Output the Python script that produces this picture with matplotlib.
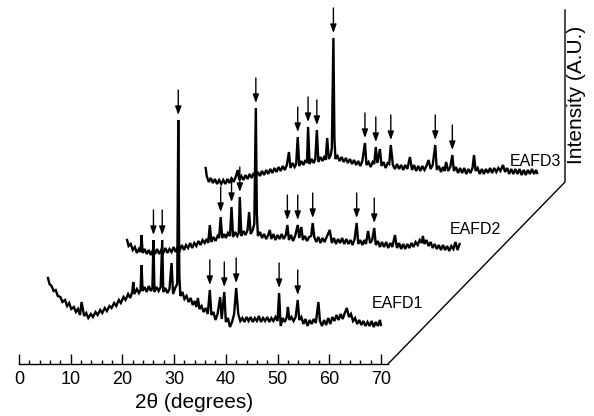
import numpy as np
import matplotlib
matplotlib.use("Agg")
from matplotlib import pyplot as plt

plt.rcParams["font.family"] = ["Liberation Sans", "DejaVu Sans"]

# 2theta (deg) / intensity (a.u.)
eafd1_2t = [5.6, 5.9, 6.3, 6.7, 7.1, 7.5, 8.0, 8.4, 8.9, 9.3, 9.7, 10.1, 10.6, 11.0, 11.4, 11.8, 12.1, 12.6,
            13.0, 13.4, 13.9, 14.3, 14.8, 15.2, 15.7, 16.1, 16.6, 17.0, 17.5, 17.9, 18.4, 18.8, 19.3, 19.7,
            20.2, 20.6, 21.1, 21.5, 21.9, 22.1, 22.3, 22.8, 23.2, 23.5, 23.7, 23.9, 24.3, 24.7, 25.1, 25.5,
            25.8, 26.0, 26.2, 26.6, 27.0, 27.4, 27.7, 27.9, 28.3, 28.7, 29.1, 29.5, 29.8, 30.2, 30.6, 30.8,
            31.0, 31.2, 31.6, 32.0, 32.4, 32.8, 33.2, 33.6, 34.0, 34.3, 34.6, 34.9, 35.3, 35.7, 36.1, 36.5,
            36.9, 37.2, 37.6, 38.0, 38.4, 38.9, 39.2, 39.7, 40.0, 40.4, 40.8, 41.2, 41.6, 42.0, 42.4, 42.8,
            43.2, 43.6, 44.0, 44.4, 44.8, 45.2, 45.6, 46.0, 46.4, 46.8, 47.2, 47.6, 48.0, 48.4, 48.8, 49.2,
            49.6, 50.0, 50.3, 50.6, 51.0, 51.4, 51.8, 52.0, 52.3, 52.7, 53.1, 53.5, 53.9, 54.2, 54.6, 55.0,
            55.4, 55.8, 56.2, 56.6, 57.0, 57.4, 57.9, 58.2, 58.6, 59.0, 59.4, 59.8, 60.2, 60.6, 61.0, 61.4,
            61.8, 62.2, 62.6, 63.0, 63.4, 63.8, 64.2, 64.6, 65.0, 65.4, 65.8, 66.2, 66.6, 67.0, 67.4, 67.8,
            68.2, 68.6, 69.0, 69.4, 69.8, 70.0]
eafd1_int = [86, 80, 78, 73, 74, 68, 67, 62, 64, 58, 61, 55, 57, 52, 55, 49, 62, 48,
             51, 46, 50, 47, 52, 49, 54, 51, 56, 53, 58, 56, 61, 58, 64, 61,
             67, 64, 70, 66, 72, 82, 70, 75, 71, 74, 99, 73, 77, 72, 78, 73,
             76, 124, 72, 77, 73, 77, 124, 72, 76, 71, 75, 101, 70, 76, 80, 244,
             90, 68, 72, 65, 68, 62, 66, 59, 63, 57, 66, 55, 58, 52, 56, 50,
             74, 49, 52, 44, 50, 67, 45, 72, 42, 46, 37, 42, 50, 76, 50, 43,
             46, 42, 47, 43, 47, 42, 46, 43, 48, 42, 46, 43, 47, 42, 46, 43,
             47, 43, 71, 38, 46, 42, 47, 57, 44, 47, 43, 47, 64, 44, 47, 40,
             45, 38, 44, 40, 45, 41, 62, 43, 38, 44, 39, 46, 40, 47, 43, 49,
             44, 50, 45, 51, 56, 47, 50, 43, 46, 40, 44, 39, 43, 38, 42, 38,
             43, 37, 42, 38, 44, 39]

eafd2_2t = [5.9, 6.2, 6.6, 7.0, 7.4, 7.8, 8.2, 8.5, 8.7, 8.9, 9.3, 9.7, 10.1, 10.5, 10.9, 11.3, 11.7, 12.1,
            12.5, 12.9, 13.3, 13.7, 14.1, 14.5, 14.9, 15.3, 15.7, 16.1, 16.5, 16.9, 17.3, 17.7, 18.1, 18.5,
            18.9, 19.3, 19.7, 20.1, 20.5, 20.9, 21.3, 21.6, 21.9, 22.2, 22.6, 23.0, 23.4, 23.7, 24.0, 24.3,
            24.7, 25.0, 25.4, 25.8, 26.1, 26.4, 26.8, 27.2, 27.5, 27.7, 28.0, 28.4, 28.8, 29.2, 29.5, 29.8,
            30.2, 30.5, 30.8, 31.0, 31.2, 31.6, 32.0, 32.4, 32.8, 33.2, 33.5, 33.8, 34.2, 34.6, 35.0, 35.4,
            35.8, 36.2, 36.6, 36.9, 37.2, 37.6, 38.0, 38.4, 38.9, 39.2, 39.6, 39.9, 40.3, 40.7, 41.1, 41.5,
            41.8, 42.1, 42.5, 42.9, 43.3, 43.7, 44.1, 44.5, 45.1, 45.5, 45.9, 46.3, 46.7, 47.1, 47.5, 47.9,
            48.3, 48.7, 49.1, 49.5, 49.9, 50.3, 50.6, 51.0, 51.4, 51.8, 52.1, 52.5, 52.9, 53.3, 53.7, 54.0,
            54.4, 54.8, 55.2, 55.6, 56.0, 56.4, 56.8, 57.2, 57.7, 58.1, 58.5, 58.9, 59.3, 59.7, 60.1, 60.5,
            60.9, 61.3, 61.7, 62.1, 62.5, 62.9, 63.1, 63.4, 63.8, 64.2, 64.6, 65.0, 65.4, 65.8, 66.2, 66.6,
            67.0, 67.4, 67.8, 68.2, 68.6, 69.0, 69.4, 69.8, 70.2]
eafd2_int = [50, 44, 46, 40, 43, 37, 41, 38, 55, 37, 41, 36, 40, 35, 40, 36, 41, 36,
             40, 37, 42, 37, 41, 38, 43, 38, 43, 40, 45, 40, 45, 42, 47, 42,
             47, 44, 49, 45, 50, 47, 51, 47, 65, 48, 53, 49, 54, 52, 73, 52,
             56, 52, 57, 54, 83, 53, 58, 54, 57, 93, 54, 59, 55, 60, 78, 56,
             60, 66, 182, 76, 54, 58, 52, 56, 51, 55, 60, 51, 56, 50, 55, 51,
             56, 51, 55, 65, 50, 55, 49, 54, 65, 52, 63, 50, 54, 49, 53, 54,
             67, 53, 48, 53, 47, 52, 48, 53, 60, 47, 52, 46, 51, 47, 52, 46,
             51, 46, 50, 45, 51, 67, 46, 50, 45, 50, 46, 59, 47, 50, 62, 45,
             49, 43, 48, 43, 48, 42, 47, 43, 55, 42, 47, 41, 46, 41, 46, 42,
             47, 43, 48, 45, 50, 47, 54, 46, 50, 44, 48, 42, 46, 41, 45, 40,
             45, 40, 44, 39, 44, 41, 48, 40, 46]

eafd3_2t = [6.1, 6.3, 6.7, 7.1, 7.5, 7.9, 8.3, 8.7, 9.1, 9.5, 9.9, 10.3, 10.7, 11.1, 11.5, 11.9, 12.3, 12.6,
            13.0, 13.4, 13.8, 14.2, 14.6, 15.0, 15.4, 15.8, 16.2, 16.6, 17.0, 17.4, 17.8, 18.2, 18.6, 19.0,
            19.4, 19.8, 20.2, 20.6, 21.0, 21.4, 21.8, 22.2, 22.5, 22.9, 23.3, 23.6, 23.9, 24.2, 24.6, 25.0,
            25.4, 25.7, 25.9, 26.2, 26.6, 27.0, 27.3, 27.6, 27.9, 28.3, 28.7, 29.1, 29.3, 29.6, 29.9, 30.3,
            30.5, 30.8, 31.0, 31.2, 31.6, 32.0, 32.4, 32.8, 33.2, 33.6, 34.0, 34.4, 34.8, 35.2, 35.6, 36.0,
            36.4, 36.9, 37.2, 37.6, 38.0, 38.4, 38.7, 39.0, 39.3, 39.8, 40.1, 40.5, 40.9, 41.3, 41.6, 41.9,
            42.3, 42.7, 43.1, 43.5, 43.9, 44.3, 44.7, 45.1, 45.6, 46.0, 46.4, 46.8, 47.2, 47.6, 48.0, 48.4,
            48.8, 49.2, 49.6, 50.0, 50.5, 50.8, 51.2, 51.6, 52.0, 52.3, 52.6, 53.0, 53.4, 53.8, 54.1, 54.5,
            54.9, 55.3, 55.7, 56.1, 56.5, 56.9, 57.3, 57.7, 58.0, 58.3, 58.7, 59.1, 59.5, 59.9, 60.3, 60.7,
            61.1, 61.5, 61.9, 62.3, 62.7, 63.1, 63.6, 64.0, 64.4, 64.8, 65.2, 65.6, 66.0, 66.4, 66.8, 67.2,
            67.6, 68.0, 68.4, 68.8, 69.2, 69.6, 70.0, 70.2]
eafd3_int = [48, 40, 34, 38, 33, 37, 32, 36, 32, 36, 32, 37, 33, 38, 34, 39, 46, 36,
             40, 36, 41, 37, 42, 38, 43, 39, 44, 40, 45, 41, 46, 42, 47, 43,
             48, 44, 49, 45, 50, 46, 51, 64, 48, 53, 49, 52, 79, 50, 55, 51,
             56, 53, 89, 52, 57, 53, 57, 86, 54, 59, 55, 60, 56, 78, 57, 61,
             68, 178, 77, 57, 60, 55, 59, 54, 58, 53, 57, 52, 56, 51, 55, 50,
             55, 73, 51, 54, 49, 54, 52, 69, 53, 67, 50, 54, 48, 53, 52, 71,
             51, 47, 52, 47, 51, 46, 51, 47, 59, 46, 51, 45, 50, 45, 50, 46,
             50, 56, 47, 51, 71, 46, 50, 44, 49, 45, 54, 45, 49, 61, 45, 49,
             43, 48, 43, 48, 42, 47, 43, 48, 61, 45, 48, 42, 47, 42, 47, 43,
             48, 43, 48, 44, 48, 45, 51, 44, 48, 42, 47, 42, 47, 42, 47, 41,
             46, 41, 46, 42, 47, 42, 46, 43]

samples = ["EAFD1", "EAFD2", "EAFD3"]
arrow_peaks = [
    [26.0, 27.7, 30.8, 36.9, 39.7, 42.0, 50.3, 53.9],
    [24.0, 26.1, 27.7, 30.8, 36.9, 38.9, 41.8, 50.3, 53.7],
    [23.9, 25.9, 27.6, 30.8, 36.9, 39.0, 41.9, 50.5, 53.8],
]

# pseudo-3D stacking: each pattern shifted right and up
dx, dy = 15.0, 74.0
px_per_deg = 5.171

fig = plt.figure(figsize=(5.94, 4.16), dpi=100)
W, H = 594, 416
ax = fig.add_axes([19 / W, 52 / H, (W - 19) / W, (H - 52) / H])
ax.set_xlim(0, (W - 19) / px_per_deg)
ax.set_ylim(0, H - 52)

traces = [(eafd1_2t, eafd1_int), (eafd2_2t, eafd2_int), (eafd3_2t, eafd3_int)]
label_pos = [(68.3, 61), (83.3, 134), (95.0, 202)]

for k, (tt, inten) in enumerate(traces):
    tt = np.asarray(tt)
    inten = np.asarray(inten)
    xs = tt + k * dx
    ys = inten + k * dy
    ax.plot(xs, ys, color="k", lw=1.7, solid_joinstyle="miter")
    for p in arrow_peaks[k]:
        i = np.argmin(np.abs(tt - p))
        tip = ys[i] + 5
        ax.annotate("", xy=(xs[i], tip), xytext=(xs[i], tip + 25),
                    arrowprops=dict(arrowstyle="-|>,head_length=0.5,head_width=0.18",
                                    color="k", lw=1.0, shrinkA=0, shrinkB=0,
                                    mutation_scale=10))
    ax.text(label_pos[k][0], label_pos[k][1], samples[k], fontsize=11.5,
            ha="left", va="center")

# axis frame: bottom scale, diagonal depth line, vertical intensity line
x_end = (388 - 19) / px_per_deg
x_back = (565 - 19) / px_per_deg
ax.plot([x_end, x_back, x_back], [0, 182, 354], color="k", lw=1.0, clip_on=False)

for s in ["top", "right", "left"]:
    ax.spines[s].set_visible(False)
ax.spines["bottom"].set_bounds(0, x_end)
ax.spines["bottom"].set_linewidth(1.0)
ax.set_xticks(np.arange(0, 71, 10))
ax.set_xticks(np.arange(0, 71, 2), minor=True)
ax.tick_params(axis="x", which="major", direction="in", length=7, width=1.0,
               labelsize=13, pad=5)
ax.tick_params(axis="x", which="minor", direction="in", length=3, width=1.0)
ax.set_yticks([])

fig.text(194 / W, 1 - 402 / H, "2θ (degrees)", fontsize=15, ha="center", va="center")
fig.text(577 / W, 1 - 95 / H, "Intensity (A.U.)", fontsize=15, rotation=90,
         ha="center", va="center")

fig.savefig("out.png", dpi=100)
